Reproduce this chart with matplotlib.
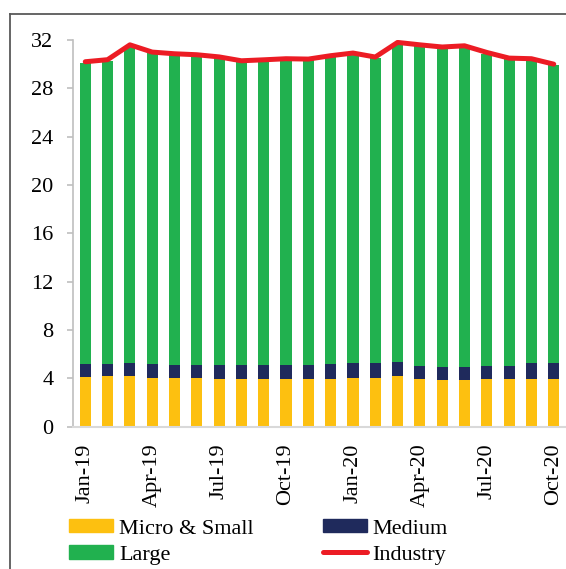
import matplotlib
matplotlib.use("Agg")
import matplotlib.pyplot as plt
from matplotlib.lines import Line2D
from matplotlib.patches import Patch
import numpy as np

plt.rcParams['font.family'] = ['Liberation Serif', 'DejaVu Serif']

months = ['Jan-19', 'Feb-19', 'Mar-19', 'Apr-19', 'May-19', 'Jun-19', 'Jul-19', 'Aug-19',
          'Sep-19', 'Oct-19', 'Nov-19', 'Dec-19', 'Jan-20', 'Feb-20', 'Mar-20', 'Apr-20',
          'May-20', 'Jun-20', 'Jul-20', 'Aug-20', 'Sep-20', 'Oct-20']

micro_small = [4.10, 4.15, 4.20, 4.00, 4.00, 4.00, 3.95, 3.90, 3.95, 3.90, 3.95,
               3.95, 4.05, 4.05, 4.15, 3.90, 3.85, 3.85, 3.90, 3.90, 3.95, 3.95]
medium = [1.07, 1.05, 1.05, 1.17, 1.12, 1.12, 1.15, 1.18, 1.15, 1.18, 1.15,
          1.25, 1.23, 1.23, 1.21, 1.13, 1.10, 1.10, 1.13, 1.13, 1.33, 1.33]
large = [24.93, 25.07, 26.25, 25.73, 25.64, 25.56, 25.40, 25.10, 25.16, 25.27, 25.22,
         25.40, 25.54, 25.21, 26.34, 26.47, 26.37, 26.47, 25.84, 25.37, 25.07, 24.62]
industry = [30.20, 30.37, 31.60, 31.00, 30.86, 30.78, 30.60, 30.28, 30.36, 30.45, 30.42,
            30.70, 30.92, 30.59, 31.80, 31.60, 31.42, 31.52, 30.97, 30.50, 30.45, 30.00]

yellow = '#FDC010'
navy = '#1F2A5C'
green = '#21B14F'
red = '#EC1C24'

fig = plt.figure(figsize=(5.66, 5.69), dpi=100)
ax = fig.add_axes([73 / 566, 1 - 426.5 / 569, 1 - 73 / 566, (426.5 - 40) / 569])

x = np.arange(len(months))
ms = np.array(micro_small)
md = np.array(medium)
ax.bar(x, ms, width=0.5, color=yellow, zorder=2)
ax.bar(x, md, width=0.5, bottom=ms, color=navy, zorder=2)
ax.bar(x, large, width=0.5, bottom=ms + md, color=green, zorder=2)
ax.plot(x, industry, color=red, lw=3.6, solid_capstyle='round', zorder=3)

ax.set_xlim(-0.55, len(months) - 0.45)
ax.set_ylim(0, 32)
ax.set_yticks(range(0, 33, 4))
ax.set_xticks(x[::3])
ax.set_xticklabels(months[::3], rotation=90)

for s in ['top', 'right']:
    ax.spines[s].set_visible(False)
ax.spines['left'].set_color('#BFBFBF')
ax.spines['bottom'].set_color('#D9D9D9')
ax.spines['left'].set_linewidth(1.2)
ax.spines['bottom'].set_linewidth(1.5)
ax.tick_params(axis='y', length=4, width=1.2, color='#BFBFBF', pad=10, labelsize=16)
ax.tick_params(axis='x', length=0, pad=12, labelsize=16)

handles = [Patch(color=yellow), Patch(color=green), Patch(color=navy),
           Line2D([], [], color=red, lw=3.6, solid_capstyle='round')]
labels = ['Micro & Small', 'Large', 'Medium', 'Industry']
fig.legend(handles, labels, ncol=2, loc='upper left', bbox_to_anchor=(69 / 566, 1 - 519 / 569),
           frameon=False, fontsize=16, handlelength=2.0, handleheight=0.55,
           handletextpad=0.25, columnspacing=3.1, labelspacing=0.3, borderpad=0,
           borderaxespad=0)

# outer frame
fy = 1 - 13.5 / 569
fx = 9.5 / 566
fig.add_artist(Line2D([fx, fx], [0, fy], color='#595959', lw=1.3, transform=fig.transFigure))
fig.add_artist(Line2D([fx, 1], [fy, fy], color='#595959', lw=1.3, transform=fig.transFigure))

fig.savefig('out.png', dpi=100)
